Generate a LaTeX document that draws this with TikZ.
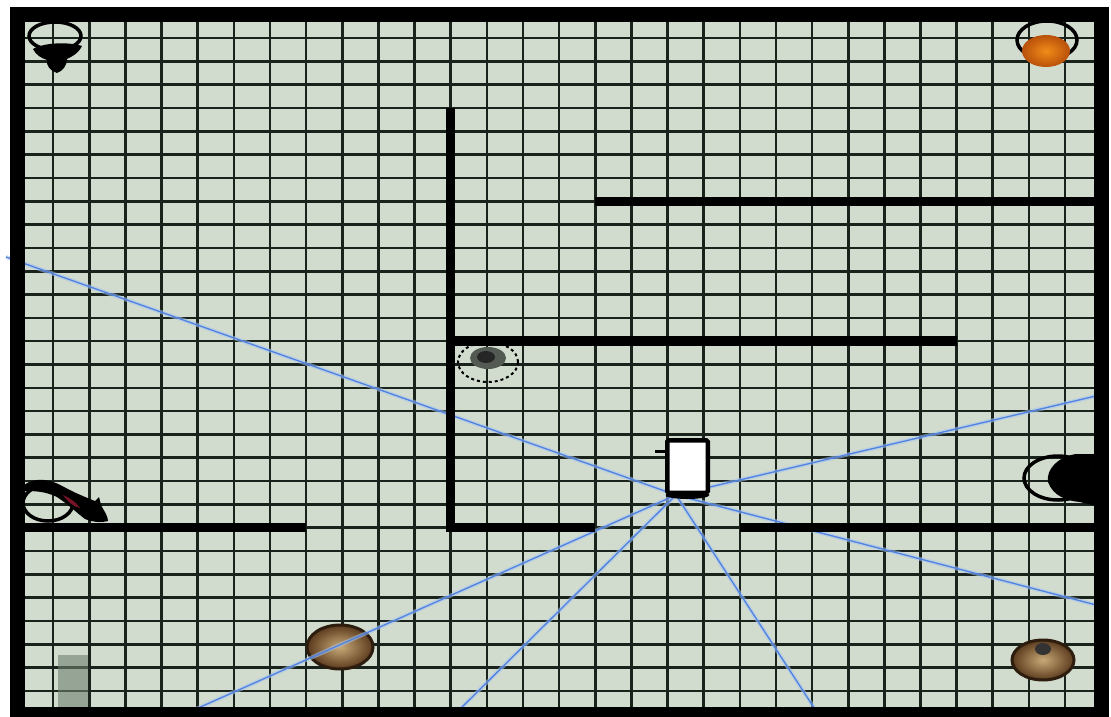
\documentclass[tikz,border=0pt]{standalone}
\usetikzlibrary{shapes.geometric}
\definecolor{floorcol}{RGB}{210,220,206}
\definecolor{gridcol}{RGB}{25,35,27}
\definecolor{raycol}{RGB}{80,130,225}
\definecolor{rayglow}{RGB}{165,195,240}
\definecolor{orangecol}{RGB}{240,140,25}
\definecolor{orangedark}{RGB}{185,80,10}
\definecolor{tancol}{RGB}{200,170,120}
\definecolor{browncol}{RGB}{90,58,28}
\definecolor{blockcol}{RGB}{110,128,112}
\definecolor{ratred}{RGB}{120,20,40}
\tikzset{
  gridline/.style={draw=gridcol,line width=2.6bp},
  outerwall/.style={draw=black,line width=15bp,line join=miter},
  wall/.style={draw=black,line width=9.5bp,line cap=square,line join=miter},
  ray/.style={draw=raycol,line width=1.3bp},
  rayhalo/.style={draw=rayglow,line width=4bp,opacity=0.55},
  ring/.style={draw=black,line width=3.5bp},
  robotbox/.style={draw=black,fill=white,line width=4.5bp,minimum width=40.5bp,
    minimum height=52.5bp,inner sep=0pt,rounded corners=1.5bp},
}
\begin{document}
\begin{tikzpicture}[x=1bp,y=-1bp]
  \useasboundingbox (0,0) rectangle (1111,717);
%%
  % Floor and grid (30 x 30 cells)
  \fill[floorcol] (17,14.7) rectangle (1101.2,714.3);
  \foreach \c in {1,...,29}
    \draw[gridline] ({17+36.14*\c},14.7) -- ({17+36.14*\c},714.3);
  \foreach \r in {1,...,29}
    \draw[gridline] (17,{14.7+23.32*\r}) -- (1101.2,{14.7+23.32*\r});
  % Object: block
  \fill[blockcol,opacity=0.6] (58,655) rectangle (88,714);
  % Object: bird
  \draw[ring] (55,36) ellipse [x radius=26, y radius=14];
  \fill[black] (33,49) .. controls (45,42) and (70,42) .. (82,46)
    .. controls (78,54) and (71,57) .. (67,59) .. controls (67,65) and (63,71) .. (57,73)
    .. controls (50,71) and (46,65) .. (47,60) .. controls (41,58) and (36,55) .. (33,49) -- cycle;
  % Object: fire
  \draw[ring] (1047,40) ellipse [x radius=30, y radius=19];
  \shade[inner color=orangecol,outer color=orangedark] (1046,51) ellipse [x radius=24, y radius=16];
  % Object: target
  \draw[ring,line width=2bp,dashed] (488,362) ellipse [x radius=30, y radius=20];
  \fill[gridcol!75!white] (488,358) ellipse [x radius=18, y radius=11];
  \fill[black!85] (486,357) ellipse [x radius=9, y radius=6];
  % Object: rat
  \draw[ring] (48,503) ellipse [x radius=25, y radius=18];
  \fill[black] (24,485) .. controls (35,477) and (50,479) .. (62,486)
    .. controls (75,493) and (85,497) .. (95,501) -- (99,497) -- (101,505)
    .. controls (104,511) and (108,516) .. (108,521) .. controls (100,523) and (92,522) .. (85,519)
    .. controls (77,513) and (69,505) .. (57,497) .. controls (45,491) and (33,491) .. (24,491) -- cycle;
  \fill[ratred] (63,495) .. controls (70,498) and (76,502) .. (80,508)
    .. controls (74,507) and (68,502) .. (63,495) -- cycle;
  % Object: cat
  \draw[ring] (1058,478) ellipse [x radius=34, y radius=22];
  \fill[black] (1100,454) -- (1076,454) .. controls (1057,457) and (1046,470) .. (1048,482)
    .. controls (1053,496) and (1067,501) .. (1080,502) -- (1092,505) -- (1100,507) -- cycle;
  % Object: pot 1
  \shade[inner color=tancol,outer color=browncol] (340,647) ellipse [x radius=33, y radius=22];
  \draw[draw=browncol!50!black,line width=3bp] (340,647) ellipse [x radius=33, y radius=22];
  % Object: pot 2
  \shade[inner color=tancol,outer color=browncol] (1043,660) ellipse [x radius=31, y radius=20];
  \draw[draw=browncol!50!black,line width=3bp] (1043,660) ellipse [x radius=31, y radius=20];
  \fill[black!80] (1043,649) ellipse [x radius=8, y radius=6];
  % Edge: sensor rays
  \coordinate (sensor) at (676,495);
  \coordinate (rayW) at (6,257);
  \coordinate (rayENE) at (1100,395);
  \coordinate (rayESE) at (1100,606);
  \coordinate (raySW) at (178,717);
  \coordinate (raySSW) at (452,717);
  \coordinate (raySSE) at (820,717);
  \foreach \e in {rayW,rayENE,rayESE,raySW,raySSW,raySSE} {
    \draw[rayhalo] (sensor) -- (\e);
    \draw[ray] (sensor) -- (\e);
  }
  % Walls
  \draw[outerwall] (17,14.7) rectangle (1101.2,714.3);
  \draw[wall] (450.7,108) -- (450.7,527.7) -- (595.2,527.7);
  \draw[wall] (17,527.7) -- (306.1,527.7);
  \draw[wall] (739.8,527.7) -- (1101.2,527.7);
  \draw[wall] (450.7,341.2) -- (956.6,341.2);
  \draw[wall] (595.2,201.3) -- (1101.2,201.3);
  % Node: robot
  \node[robotbox] (robot) at (687.5,466.5) {};
  \draw[black,line width=3bp] (655,451) -- (robot.west |- 0,451);
  \fill[black] (robot.south) ellipse [x radius=22, y radius=4];
%
\end{tikzpicture}
\end{document}
